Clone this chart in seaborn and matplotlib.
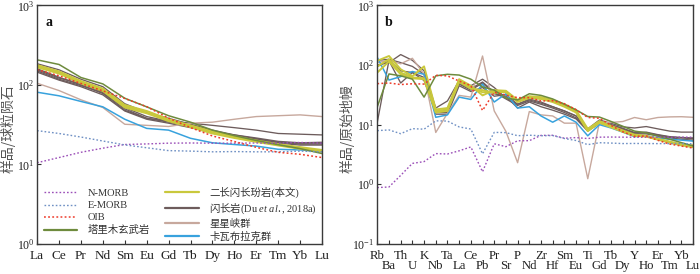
import matplotlib
matplotlib.use("Agg")
import matplotlib.pyplot as plt
import seaborn as sns
import numpy as np
import pandas as pd
from matplotlib.ticker import LogLocator, LogFormatterMathtext, NullLocator
from matplotlib.lines import Line2D

sns.set_theme(style="white")
plt.rcParams['font.family'] = ['Liberation Serif', 'Noto Sans CJK SC', 'DejaVu Sans']
plt.rcParams['mathtext.fontset'] = 'custom'
plt.rcParams['mathtext.rm'] = 'Noto Sans CJK SC'
plt.rcParams['mathtext.it'] = 'Liberation Serif:italic'
plt.rcParams['mathtext.bf'] = 'Liberation Serif:bold'

# ---------------- data: panel a (chondrite normalised REE) ----------------
ree = ["La", "Ce", "Pr", "Nd", "Sm", "Eu", "Gd", "Tb", "Dy", "Ho", "Er", "Tm", "Yb", "Lu"]
a_nmorb = [10.5, 12.2, 14.2, 16.0, 17.8, 18.1, 18.5, 18.6, 18.5, 18.5, 18.6, 18.5, 18.9, 18.5]
a_emorb = [26.6, 24.5, 22.1, 19.7, 17.6, 16.2, 14.9, 14.7, 14.4, 14.5, 14.4, 14.4, 14.7, 14.4]
a_oib = [156, 130.5, 104.5, 84.2, 67.6, 53.3, 38.3, 29.1, 22.8, 19.4, 16.4, 14.2, 13.4, 12.2]
a_tarim = [207, 181, 124, 103, 68, 53, 41, 34, 27, 23, 20, 17.7, 15.8, 13.7]
a_this = [
    [178, 148, 112, 90, 56, 47, 37, 31, 26, 22.6, 20, 18, 16.5, 15.2],
    [172, 143, 108, 86, 54, 46, 36, 30, 25, 22, 19.6, 17.6, 16, 14.8],
    [167, 139, 105, 84, 52, 44, 35, 29.5, 24.5, 21.5, 19.2, 17.3, 15.7, 14.5],
]
a_du = [
    [150, 118, 98, 80, 50, 38, 35, 33, 31, 29, 27, 24.5, 24, 23.5],
    [185, 155, 118, 95, 58, 45, 38, 32, 27, 23.5, 21, 19, 18.5, 18.5],
    [160, 125, 100, 78, 48, 38, 34, 30, 26, 23, 21, 19, 18, 18],
    [145, 115, 95, 75, 47, 37, 33, 29, 25, 22.5, 20.5, 18.5, 17.5, 17.5],
    [155, 122, 104, 82, 52, 40, 35, 31, 26, 23.5, 21.5, 19.5, 18.7, 19],
]
a_xxx = [105, 85, 65, 52, 32, 31, 30, 33, 34, 37, 40, 41, 42, 40]
a_kwb = [81, 73, 62, 53, 37, 28.4, 27, 21.3, 18.7, 17.8, 17, 15.5, 15.2, 14.5]

# ---------------- data: panel b (primitive mantle normalised) ----------------
tre = ["Rb", "Ba", "Th", "U", "K", "Nb", "Ta", "La", "Ce", "Pb", "Pr", "Sr", "P", "Nd",
       "Zr", "Hf", "Sm", "Eu", "Ti", "Gd", "Tb", "Dy", "Y", "Ho", "Er", "Tm", "Yb", "Lu"]
b_nmorb = [0.88, 0.90, 1.41, 2.24, 2.4, 3.27, 3.22, 3.64, 4.23, 1.62, 4.78, 4.27, 5.37, 5.39,
           6.61, 6.63, 5.92, 6.07, 5.85, 6.17, 6.2, 6.17, 6.15, 6.16, 6.19, 6.16, 6.19, 6.15]
b_emorb = [7.94, 8.16, 7.06, 8.57, 8.4, 11.6, 11.5, 9.17, 8.45, 3.24, 7.43, 7.35, 6.53, 6.65,
           6.52, 6.57, 5.86, 5.42, 4.62, 4.98, 4.91, 4.82, 4.84, 4.82, 4.81, 4.81, 4.81, 4.78]
b_oib = [48.8, 50.1, 47.1, 48.6, 48, 67.3, 65.9, 53.9, 45.1, 17.3, 35.1, 31.3, 28.4, 28.4,
         25, 25.2, 22.5, 17.9, 13.2, 12.8, 9.72, 7.6, 6.37, 6.46, 5.46, 4.73, 4.38, 4.05]
b_tarim = [20, 71, 66, 58, 29, 66, 70, 68, 58, 43, 38, 28, 26, 33,
           31, 27, 22, 17.7, 13.7, 13.4, 11.3, 9.4, 7.8, 7.3, 6.4, 5.7, 5.0, 4.4]
b_this = [
    [118, 142, 85, 65, 95, 18, 19, 58, 45, 31, 38, 37, 26, 30,
     29, 26, 22, 17.5, 8.5, 11.5, 9.5, 8, 6.8, 6.5, 5.8, 5.2, 4.7, 4.5],
    [95, 125, 75, 62, 60, 17, 18, 55, 42, 35, 36, 35, 25, 29,
     28, 25, 21, 16.5, 8, 11, 9.2, 7.8, 6.6, 6.4, 5.7, 5.1, 4.6, 4.3],
    [75, 115, 70, 60, 58, 16, 17, 52, 40, 38, 34, 36, 24, 28,
     27, 24, 20, 16, 7.8, 10.8, 9, 7.6, 6.5, 6.3, 5.6, 5.0, 4.5, 4.2],
]
b_du = [
    [11, 120, 80, 75, 62, 17, 17, 48, 38, 50, 33, 30, 19, 24,
     20, 17.5, 15, 12.5, 7.8, 10.5, 9.5, 8.3, 7, 7, 6.5, 6, 5.7, 5.5],
    [100, 110, 150, 120, 80, 19, 25, 55, 45, 58, 42, 28, 22, 27,
     24, 20, 17, 14, 8.5, 12, 10.5, 9.2, 8.8, 9.3, 8.5, 7.8, 7.5, 7.5],
    [95, 118, 50, 75, 55, 16, 16, 50, 40, 52, 35, 27, 21, 25,
     22, 19, 16, 13, 8, 11, 9.8, 8.5, 7.2, 7.3, 6.7, 6.2, 6.0, 5.8],
    [120, 125, 110, 95, 70, 15, 15, 45, 36, 42, 30, 32, 22, 26,
     23, 20, 17, 14, 8.2, 11.5, 10, 8.7, 7.4, 7.5, 6.8, 6.3, 6.1, 6.0],
]
b_xxx = [110, 120, 105, 130, 70, 7.4, 15.5, 31, 29, 142, 17, 7.7, 2.3, 16.6,
         14.6, 14, 10.6, 10.6, 1.24, 11, 10.9, 11.3, 13.2, 12.1, 13.2, 13.5, 13.6, 13.3]
b_kwb = [134, 56, 64, 78, 70, 13.3, 14.6, 29, 26.5, 48, 24, 33, 19, 20,
         14, 11, 14, 11, 6.5, 10, 8.8, 7.5, 6.3, 6.5, 6.0, 5.7, 5.5, 5.3]

labels = ["N-MORB", "E-MORB", "OIB", "塔里木玄武岩",
          "二长闪长玢岩(本文)", r"$\mathrm{闪长岩}$(Du $\mathit{et\ al.}$, 2018a)", "星星峡群", "卡瓦布拉克群"]

C_N = "#9b4fb8"
C_E = "#6f90c4"
C_O = "#ee3b2a"
C_G = "#6e8b3d"
C_Y = "#c9c83c"
C_D = "#6d5c5c"
C_P = "#c7a89d"
C_B = "#38a2dd"
DOT = (0, (1.2, 1.5))


def draw(ax, cats, nm, em, oib, tarim, this, du, xxx, kwb):
    x = np.arange(len(cats))

    def ln(vals, color, lw=1.0, ls="-", z=2):
        df = pd.DataFrame({"x": x, "y": vals})
        sns.lineplot(data=df, x="x", y="y", ax=ax, color=color, lw=lw, linestyle=ls,
                     zorder=z, legend=False, sort=False, estimator=None)
    for v in du:
        ln(v, C_D, 0.95)
    ln(xxx, C_P, 1.0)
    ln(kwb, C_B, 1.1)
    for v in this:
        ln(v, C_Y, 1.4)
    ln(tarim, C_G, 1.1)
    ln(nm, C_N, 1.0, DOT)
    ln(em, C_E, 1.0, DOT)
    ln(oib, C_O, 1.1, DOT)
    ax.set_yscale("log")
    ax.set_xlim(0, len(cats) - 1)
    ax.set_xlabel("")
    ax.set_ylabel("")
    ax.yaxis.set_major_locator(LogLocator(base=10, numticks=10))
    ax.yaxis.set_major_formatter(LogFormatterMathtext())
    ax.yaxis.set_minor_locator(NullLocator())
    ax.tick_params(axis="both", which="both", direction="in", length=3, width=0.8,
                   colors="#333333", labelsize=9.5, labelcolor="#222222")
    ax.tick_params(axis="x", which="both", bottom=True, top=False, pad=4.5)
    ax.tick_params(axis="y", left=True, right=False, pad=2, labelsize=8.5)
    for s in ax.spines.values():
        s.set_color("#3a3a3a")
        s.set_linewidth(1.0)
    return x


fig = plt.figure(figsize=(7.0, 2.74), dpi=100)
axa = fig.add_axes([0.053, 0.11, 0.407, 0.87])
axb = fig.add_axes([0.539, 0.11, 0.451, 0.87])

xa = draw(axa, ree, a_nmorb, a_emorb, a_oib, a_tarim, a_this, a_du, a_xxx, a_kwb)
axa.set_ylim(1, 1000)
axa.set_xticks(xa)
axa.set_xticklabels(ree)

xb = draw(axb, tre, b_nmorb, b_emorb, b_oib, b_tarim, b_this, b_du, b_xxx, b_kwb)
axb.set_ylim(0.1, 1000)
axb.set_xticks(xb[::2])
axb.set_xticklabels(tre[::2])
axb.set_xticks(xb[1::2], minor=True)
axb.set_xticklabels(tre[1::2], minor=True)
axb.tick_params(axis="x", which="major", pad=4.5, labelsize=9.2)
axb.tick_params(axis="x", which="minor", pad=11.5, labelsize=9.2, length=3)

axa.text(0.028, 0.955, "a", transform=axa.transAxes, fontsize=10, fontweight="bold",
         va="top", ha="left", color="#111111")
axb.text(0.025, 0.955, "b", transform=axb.transAxes, fontsize=10, fontweight="bold",
         va="top", ha="left", color="#111111")

fig.text(0.011, 0.53, "样品/球粒陨石", rotation=90, ha="center", va="center",
         fontsize=10, color="#555555", family=['Noto Sans CJK SC'])
fig.text(0.496, 0.53, "样品/原始地幔", rotation=90, ha="center", va="center",
         fontsize=10, color="#555555", family=['Noto Sans CJK SC'])

handles = [
    Line2D([], [], color=C_N, lw=1.0, ls=DOT),
    Line2D([], [], color=C_E, lw=1.0, ls=DOT),
    Line2D([], [], color=C_O, lw=1.1, ls=DOT),
    Line2D([], [], color=C_G, lw=1.6),
    Line2D([], [], color=C_Y, lw=1.6),
    Line2D([], [], color=C_D, lw=1.6),
    Line2D([], [], color=C_P, lw=1.6),
    Line2D([], [], color=C_B, lw=1.6),
]
leg = axa.legend(handles, labels, ncol=2, loc="lower left", bbox_to_anchor=(0.0, -0.02),
                 frameon=False, fontsize=7.5, handlelength=3.2, handletextpad=1.0,
                 columnspacing=1.5, labelspacing=0.28, borderaxespad=0.25)
for t in leg.get_texts():
    t.set_color("#333333")

fig.savefig("out.png", dpi=100)
